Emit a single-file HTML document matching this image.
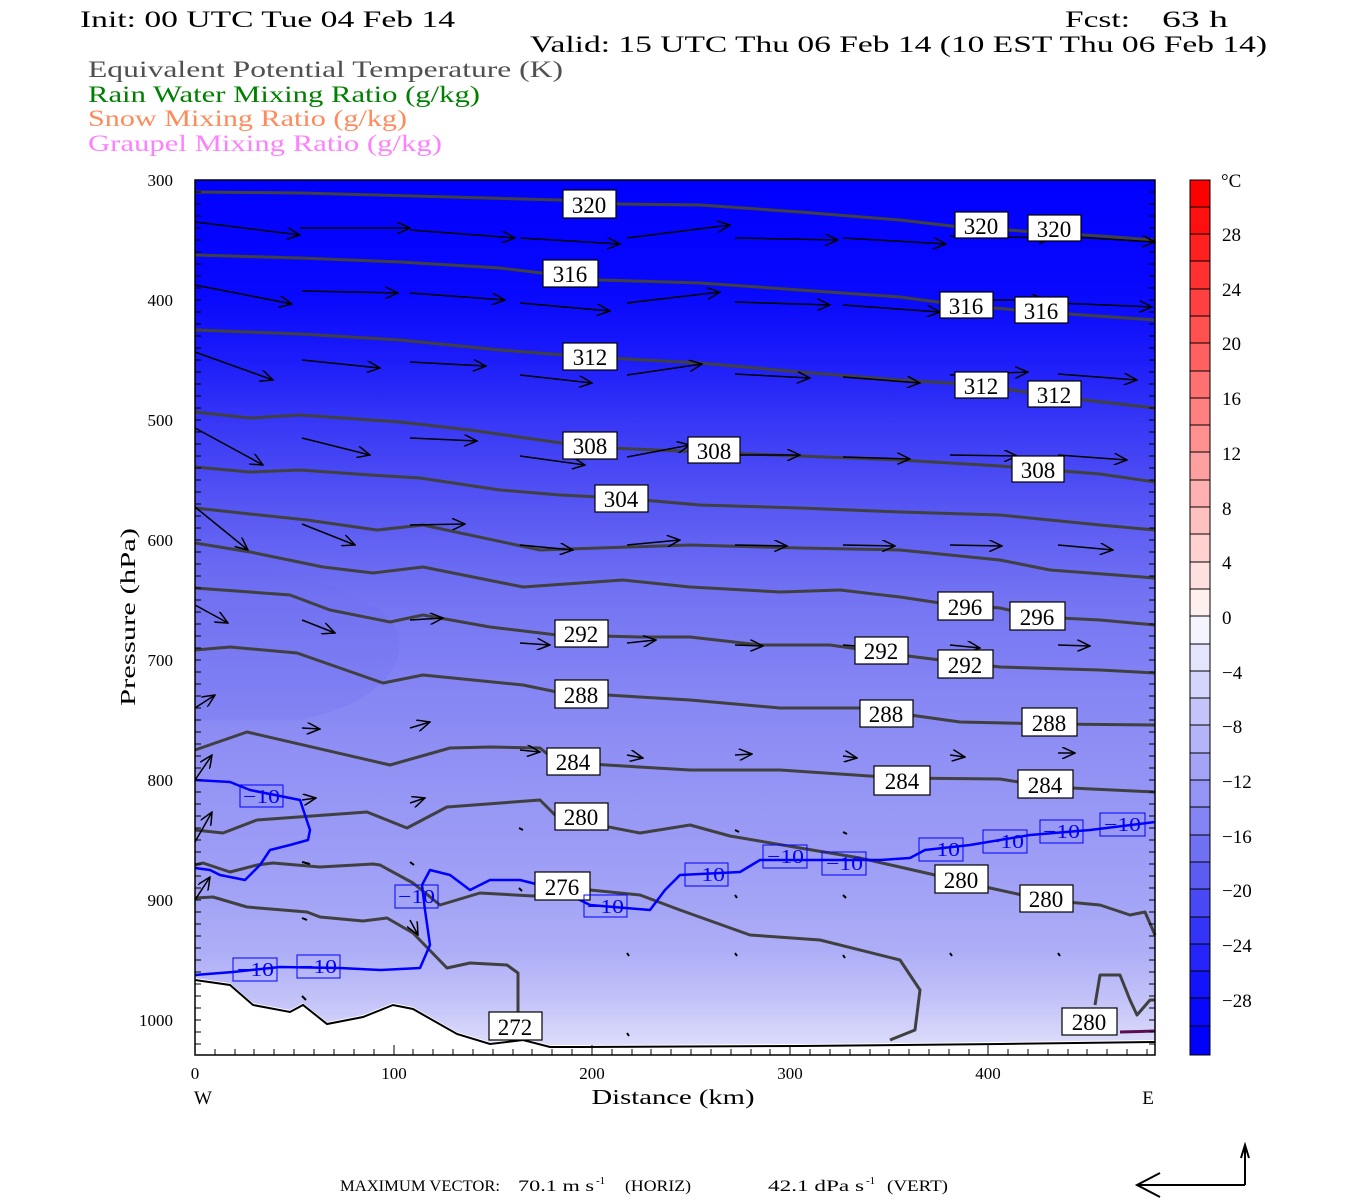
<!DOCTYPE html>
<html><head><meta charset="utf-8"><style>
html,body{margin:0;padding:0;background:#fff;}
svg{display:block;}
text{font-family:"Liberation Serif",serif;}
</style></head><body>
<svg width="1350" height="1200" viewBox="0 0 1350 1200" xmlns="http://www.w3.org/2000/svg">
<defs>
<linearGradient id="bg" x1="0" y1="180" x2="0" y2="1055" gradientUnits="userSpaceOnUse">
<stop offset="0" stop-color="#0000ff"/>
<stop offset="0.13" stop-color="#0808fd"/>
<stop offset="0.2" stop-color="#1a1afa"/>
<stop offset="0.28" stop-color="#3838f6"/>
<stop offset="0.38" stop-color="#5858f3"/>
<stop offset="0.48" stop-color="#7474f3"/>
<stop offset="0.6" stop-color="#8888f4"/>
<stop offset="0.7" stop-color="#9595f5"/>
<stop offset="0.8" stop-color="#a0a0f6"/>
<stop offset="0.88" stop-color="#adadf7"/>
<stop offset="0.94" stop-color="#c4c4f9"/>
<stop offset="1" stop-color="#e2e2fc"/>
</linearGradient>
<marker id="ah" markerWidth="14" markerHeight="12" refX="13" refY="6" orient="auto" markerUnits="userSpaceOnUse">
<path d="M0,0 L13,6 L0,12" fill="none" stroke="#000" stroke-width="1.5"/>
</marker>
</defs>

<g font-size="23" fill="#000">
<text x="80" y="27" textLength="375" lengthAdjust="spacingAndGlyphs">Init: 00 UTC Tue 04 Feb 14</text>
<text x="1065" y="27" textLength="65" lengthAdjust="spacingAndGlyphs">Fcst:</text><text x="1162" y="27" textLength="66" lengthAdjust="spacingAndGlyphs">63 h</text>
<text x="530" y="52" textLength="737" lengthAdjust="spacingAndGlyphs">Valid: 15 UTC Thu 06 Feb 14 (10 EST Thu 06 Feb 14)</text>
<text x="88" y="77" fill="#505050" textLength="475" lengthAdjust="spacingAndGlyphs">Equivalent Potential Temperature (K)</text>
<text x="88" y="102" fill="#008000" textLength="392" lengthAdjust="spacingAndGlyphs">Rain Water Mixing Ratio (g/kg)</text>
<text x="88" y="126" fill="#ff8a5c" textLength="319" lengthAdjust="spacingAndGlyphs">Snow Mixing Ratio (g/kg)</text>
<text x="88" y="151" fill="#ff80ff" textLength="354" lengthAdjust="spacingAndGlyphs">Graupel Mixing Ratio (g/kg)</text>
</g>

<rect x="195" y="180" width="960" height="875" fill="url(#bg)"/>
<path d="M195,560 C260,560 330,580 380,610 C420,640 400,700 300,720 L195,720 Z" fill="#6a6af2" opacity="0.2"/>
<path d="M195,978 L230,983 L253,1003 L290,1010 L303,1003 L327,1022 L363,1015 L393,1003 L413,1007 L457,1032 L490,1042 L523,1038 L550,1045 L580,1045 L800,1044 L1000,1042 L1155,1040 L1155,1055 L195,1055 Z" fill="#fff"/>
<path d="M195,980 L230,985 L253,1005 L290,1012 L303,1005 L327,1024 L363,1017 L393,1005 L413,1009 L457,1034 L490,1044 L523,1040 L550,1047 L580,1047 L800,1046 L1000,1044 L1155,1042" fill="none" stroke="#000" stroke-width="2"/>
<path d="M1120,1032 L1155,1031" stroke="#5a1050" stroke-width="3"/>

<g fill="none" stroke="#404040" stroke-width="3" stroke-linejoin="round">
<polyline points="195,192 300,193 450,197 560,200 620,204 700,205 800,212 900,220 960,227 1100,236 1155,240"/>
<polyline points="195,255 300,258 400,262 500,268 600,280 700,283 800,290 900,297 960,305 1040,312 1155,320"/>
<polyline points="195,330 300,334 400,340 500,350 590,357 700,363 800,372 900,380 980,385 1050,396 1155,408"/>
<polyline points="195,412 250,418 300,415 400,422 470,430 540,440 590,447 700,452 800,456 900,460 1000,466 1100,474 1155,482"/>
<polyline points="195,467 250,472 300,470 370,475 420,478 500,490 560,495 620,498 700,505 800,508 900,512 1000,515 1100,525 1155,530"/>
<polyline points="195,508 250,514 307,520 377,530 423,525 540,550 690,545 800,548 900,550 1000,560 1050,570 1155,578"/>
<polyline points="195,543 250,552 323,567 373,573 423,567 523,587 623,580 690,587 780,592 840,590 900,597 940,603 1000,608 1040,617 1100,620 1155,625"/>
<polyline points="195,588 290,595 330,610 390,622 423,615 490,627 557,635 640,637 690,637 760,645 830,645 900,655 940,660 1000,667 1100,670 1155,673"/>
<polyline points="195,650 230,647 297,653 383,683 423,675 523,685 557,692 690,700 780,708 860,708 960,722 1050,724 1155,725"/>
<polyline points="195,750 247,732 390,765 450,748 490,747 540,748 557,762 690,770 780,770 900,778 1000,779 1050,787 1155,792"/>
<polyline points="195,830 223,833 257,820 367,812 407,828 447,807 540,800 557,817 640,833 690,825 730,836 800,848 860,858 935,875 990,888 1045,900 1100,905 1130,915 1145,912 1155,935"/>
<polyline points="195,865 203,863 230,872 257,865 273,863 320,867 373,864 380,865 413,883 440,905 480,893 533,896 590,890 640,895 680,910 750,935 820,940 900,960 920,990 915,1030 890,1040"/>
<polyline points="195,898 213,897 247,907 307,912 320,917 363,921 387,918 413,933 447,968 470,963 507,965 518,973 518,1013"/>
<polyline points="1095,1005 1100,975 1120,975 1130,1000 1137,1015 1150,1000 1155,1000"/>
</g>

<g fill="none" stroke="#0000ff" stroke-width="2.5" stroke-linejoin="round">
<polyline points="195,780 230,782 250,790 300,800 310,830 308,840 290,845 270,850 260,865 245,880 220,875 210,870 195,868"/>
<polyline points="195,975 233,972 280,967 340,968 380,970 420,968 430,945 425,910 422,885 430,870 450,875 470,890 490,880 520,880 560,890 590,905 650,910 665,890 680,875 740,872 760,860 800,860 880,860 910,858 925,850 970,845 1030,835 1090,830 1155,822"/>
</g>

<g stroke="#000" stroke-width="1.5" marker-end="url(#ah)">
<line x1="195" y1="222" x2="300" y2="235"/><line x1="300" y1="228" x2="410" y2="228"/><line x1="410" y1="230" x2="515" y2="238"/><line x1="520" y1="238" x2="620" y2="244"/><line x1="627" y1="238" x2="730" y2="225"/><line x1="735" y1="238" x2="838" y2="240"/><line x1="843" y1="238" x2="946" y2="244"/><line x1="950" y1="236" x2="1052" y2="238"/><line x1="1058" y1="236" x2="1155" y2="242"/>
<line x1="195" y1="285" x2="292" y2="304"/><line x1="302" y1="291" x2="398" y2="293"/><line x1="410" y1="293" x2="505" y2="300"/><line x1="520" y1="303" x2="610" y2="311"/><line x1="627" y1="303" x2="720" y2="292"/><line x1="735" y1="302" x2="830" y2="305"/><line x1="843" y1="305" x2="940" y2="312"/><line x1="950" y1="300" x2="1045" y2="300"/><line x1="1058" y1="303" x2="1152" y2="307"/>
<line x1="195" y1="352" x2="273" y2="380"/><line x1="302" y1="360" x2="380" y2="368"/><line x1="410" y1="362" x2="486" y2="366"/><line x1="520" y1="375" x2="592" y2="383"/><line x1="627" y1="375" x2="702" y2="364"/><line x1="735" y1="374" x2="810" y2="378"/><line x1="843" y1="377" x2="920" y2="383"/><line x1="950" y1="375" x2="1028" y2="372"/><line x1="1058" y1="374" x2="1137" y2="380"/>
<line x1="195" y1="428" x2="263" y2="465"/><line x1="302" y1="438" x2="370" y2="455"/><line x1="410" y1="438" x2="477" y2="441"/><line x1="520" y1="456" x2="585" y2="465"/><line x1="627" y1="457" x2="690" y2="445"/><line x1="735" y1="455" x2="800" y2="455"/><line x1="843" y1="457" x2="910" y2="459"/><line x1="950" y1="455" x2="1017" y2="456"/><line x1="1058" y1="455" x2="1127" y2="460"/>
<line x1="195" y1="507" x2="248" y2="550"/><line x1="302" y1="524" x2="355" y2="545"/><line x1="410" y1="525" x2="465" y2="524"/><line x1="520" y1="545" x2="573" y2="550"/><line x1="627" y1="545" x2="680" y2="540"/><line x1="735" y1="545" x2="787" y2="546"/><line x1="843" y1="545" x2="895" y2="546"/><line x1="950" y1="545" x2="1002" y2="546"/><line x1="1058" y1="545" x2="1113" y2="550"/>
<line x1="195" y1="605" x2="228" y2="623"/><line x1="302" y1="620" x2="335" y2="633"/><line x1="410" y1="620" x2="443" y2="618"/><line x1="520" y1="643" x2="550" y2="645"/><line x1="627" y1="643" x2="656" y2="640"/><line x1="735" y1="645" x2="763" y2="646"/><line x1="843" y1="645" x2="870" y2="647"/><line x1="950" y1="645" x2="980" y2="648"/><line x1="1058" y1="645" x2="1090" y2="646"/>
<line x1="195" y1="708" x2="215" y2="695"/><line x1="302" y1="728" x2="320" y2="729"/><line x1="410" y1="728" x2="430" y2="722"/><line x1="520" y1="750" x2="540" y2="752"/><line x1="627" y1="755" x2="643" y2="758"/><line x1="735" y1="755" x2="752" y2="754"/><line x1="843" y1="756" x2="857" y2="758"/><line x1="950" y1="755" x2="965" y2="757"/><line x1="1058" y1="753" x2="1075" y2="753"/>
<line x1="195" y1="780" x2="212" y2="755"/><line x1="302" y1="800" x2="316" y2="798"/><line x1="410" y1="803" x2="425" y2="798"/>
<line x1="195" y1="842" x2="212" y2="812"/><line x1="195" y1="900" x2="210" y2="877"/><line x1="410" y1="920" x2="418" y2="935"/>
</g>
<g stroke="#000" stroke-width="2">
<line x1="519" y1="828" x2="523" y2="830"/><line x1="735" y1="830" x2="739" y2="832"/><line x1="843" y1="832" x2="847" y2="834"/>
<line x1="302" y1="862" x2="310" y2="864"/><line x1="410" y1="862" x2="414" y2="865"/><line x1="519" y1="888" x2="522" y2="891"/>
<line x1="302" y1="918" x2="307" y2="920"/><line x1="735" y1="895" x2="737" y2="898"/><line x1="843" y1="895" x2="846" y2="898"/>
<line x1="627" y1="953" x2="629" y2="956"/><line x1="735" y1="953" x2="737" y2="956"/><line x1="843" y1="955" x2="845" y2="958"/><line x1="950" y1="953" x2="952" y2="956"/><line x1="1058" y1="953" x2="1060" y2="956"/>
<line x1="302" y1="996" x2="306" y2="1000"/><line x1="627" y1="1033" x2="629" y2="1036"/>
</g>

<g font-size="23" text-anchor="middle">
<g fill="#fff" stroke="#000" stroke-width="1.2">
<rect x="563" y="190" width="53" height="28"/><rect x="955" y="212" width="53" height="26"/><rect x="1028" y="215" width="53" height="26"/>
<rect x="543" y="260" width="55" height="27"/><rect x="940" y="292" width="53" height="26"/><rect x="1015" y="297" width="53" height="26"/>
<rect x="563" y="343" width="54" height="27"/><rect x="955" y="372" width="53" height="26"/><rect x="1028" y="381" width="53" height="26"/>
<rect x="563" y="432" width="54" height="27"/><rect x="688" y="437" width="52" height="26"/><rect x="1012" y="456" width="52" height="26"/>
<rect x="595" y="485" width="53" height="27"/>
<rect x="938" y="592" width="55" height="28"/><rect x="1010" y="602" width="55" height="28"/>
<rect x="555" y="620" width="53" height="27"/><rect x="855" y="637" width="53" height="27"/><rect x="938" y="650" width="55" height="28"/>
<rect x="555" y="680" width="53" height="28"/><rect x="860" y="700" width="53" height="27"/><rect x="1022" y="708" width="55" height="28"/>
<rect x="547" y="748" width="53" height="27"/><rect x="874" y="766" width="56" height="29"/><rect x="1018" y="770" width="55" height="28"/>
<rect x="555" y="803" width="53" height="27"/><rect x="935" y="865" width="53" height="28"/><rect x="1020" y="885" width="53" height="27"/>
<rect x="535" y="872" width="55" height="28"/><rect x="489" y="1012" width="53" height="28"/><rect x="1062" y="1008" width="55" height="27"/>
</g>
<g fill="#000">
<text x="589" y="213">320</text><text x="981" y="234">320</text><text x="1054" y="237">320</text>
<text x="570" y="282">316</text><text x="966" y="314">316</text><text x="1041" y="319">316</text>
<text x="590" y="365">312</text><text x="981" y="394">312</text><text x="1054" y="403">312</text>
<text x="590" y="454">308</text><text x="714" y="459">308</text><text x="1038" y="478">308</text>
<text x="621" y="507">304</text>
<text x="965" y="615">296</text><text x="1037" y="625">296</text>
<text x="581" y="642">292</text><text x="881" y="659">292</text><text x="965" y="673">292</text>
<text x="581" y="703">288</text><text x="886" y="722">288</text><text x="1049" y="731">288</text>
<text x="573" y="770">284</text><text x="902" y="789">284</text><text x="1045" y="793">284</text>
<text x="581" y="825">280</text><text x="961" y="888">280</text><text x="1046" y="907">280</text>
<text x="562" y="895">276</text><text x="515" y="1035">272</text><text x="1089" y="1030">280</text>
</g>
</g>
<g font-size="20" fill="#0000ff">
<g fill="none" stroke="#0000ff" stroke-width="1">
<rect x="240" y="785" width="43" height="22"/><rect x="233" y="958" width="44" height="23"/><rect x="297" y="955" width="43" height="23"/>
<rect x="395" y="885" width="43" height="23"/><rect x="584" y="895" width="43" height="22"/><rect x="685" y="863" width="43" height="23"/>
<rect x="763" y="845" width="44" height="23"/><rect x="822" y="852" width="44" height="23"/><rect x="919" y="838" width="44" height="23"/>
<rect x="983" y="830" width="44" height="23"/><rect x="1040" y="820" width="43" height="23"/><rect x="1100" y="813" width="45" height="23"/>
</g>
<text x="243" y="803" textLength="37" lengthAdjust="spacingAndGlyphs">−10</text>
<text x="237" y="976" textLength="37" lengthAdjust="spacingAndGlyphs">−10</text>
<text x="300" y="973" textLength="37" lengthAdjust="spacingAndGlyphs">−10</text>
<text x="398" y="903" textLength="37" lengthAdjust="spacingAndGlyphs">−10</text>
<text x="587" y="913" textLength="37" lengthAdjust="spacingAndGlyphs">−10</text>
<text x="688" y="881" textLength="37" lengthAdjust="spacingAndGlyphs">−10</text>
<text x="767" y="863" textLength="37" lengthAdjust="spacingAndGlyphs">−10</text>
<text x="826" y="870" textLength="37" lengthAdjust="spacingAndGlyphs">−10</text>
<text x="923" y="856" textLength="37" lengthAdjust="spacingAndGlyphs">−10</text>
<text x="987" y="848" textLength="37" lengthAdjust="spacingAndGlyphs">−10</text>
<text x="1043" y="838" textLength="37" lengthAdjust="spacingAndGlyphs">−10</text>
<text x="1104" y="831" textLength="37" lengthAdjust="spacingAndGlyphs">−10</text>
</g>

<rect x="195" y="180" width="960" height="875" fill="none" stroke="#000" stroke-width="1.5"/>
<g stroke="#000" stroke-width="1">
<path d="M195,192h6M195,204h6M195,216h6M195,228h6M195,240h6M195,252h6M195,264h6M195,276h6M195,288h6M195,300h6M195,312h6M195,324h6M195,336h6M195,348h6M195,360h6M195,372h6M195,384h6M195,396h6M195,408h6M195,420h6M195,432h6M195,444h6M195,456h6M195,468h6M195,480h6M195,492h6M195,504h6M195,516h6M195,528h6M195,540h6M195,552h6M195,564h6M195,576h6M195,588h6M195,600h6M195,612h6M195,624h6M195,636h6M195,648h6M195,660h6M195,672h6M195,684h6M195,696h6M195,708h6M195,720h6M195,732h6M195,744h6M195,756h6M195,768h6M195,780h6M195,792h6M195,804h6M195,816h6M195,828h6M195,840h6M195,852h6M195,864h6M195,876h6M195,888h6M195,900h6M195,912h6M195,924h6M195,936h6M195,948h6M195,960h6M195,972h6M195,984h6M195,996h6M195,1008h6M195,1020h6M195,1032h6M195,1044h6"/>
<path d="M1155,192h-6M1155,204h-6M1155,216h-6M1155,228h-6M1155,240h-6M1155,252h-6M1155,264h-6M1155,276h-6M1155,288h-6M1155,300h-6M1155,312h-6M1155,324h-6M1155,336h-6M1155,348h-6M1155,360h-6M1155,372h-6M1155,384h-6M1155,396h-6M1155,408h-6M1155,420h-6M1155,432h-6M1155,444h-6M1155,456h-6M1155,468h-6M1155,480h-6M1155,492h-6M1155,504h-6M1155,516h-6M1155,528h-6M1155,540h-6M1155,552h-6M1155,564h-6M1155,576h-6M1155,588h-6M1155,600h-6M1155,612h-6M1155,624h-6M1155,636h-6M1155,648h-6M1155,660h-6M1155,672h-6M1155,684h-6M1155,696h-6M1155,708h-6M1155,720h-6M1155,732h-6M1155,744h-6M1155,756h-6M1155,768h-6M1155,780h-6M1155,792h-6M1155,804h-6M1155,816h-6M1155,828h-6M1155,840h-6M1155,852h-6M1155,864h-6M1155,876h-6M1155,888h-6M1155,900h-6M1155,912h-6M1155,924h-6M1155,936h-6M1155,948h-6M1155,960h-6M1155,972h-6M1155,984h-6M1155,996h-6M1155,1008h-6M1155,1020h-6M1155,1032h-6M1155,1044h-6"/>
<path d="M215,1055v-6M235,1055v-6M254,1055v-6M274,1055v-6M294,1055v-6M314,1055v-6M334,1055v-6M354,1055v-6M374,1055v-6M394,1055v-10M413,1055v-6M433,1055v-6M453,1055v-6M473,1055v-6M493,1055v-6M513,1055v-6M532,1055v-6M552,1055v-6M572,1055v-6M592,1055v-10M612,1055v-6M632,1055v-6M651,1055v-6M671,1055v-6M691,1055v-6M711,1055v-6M731,1055v-6M751,1055v-6M770,1055v-6M790,1055v-10M810,1055v-6M830,1055v-6M850,1055v-6M870,1055v-6M889,1055v-6M909,1055v-6M929,1055v-6M949,1055v-6M969,1055v-6M988,1055v-10M1008,1055v-6M1028,1055v-6M1048,1055v-6M1068,1055v-6M1087,1055v-6M1107,1055v-6M1127,1055v-6M1147,1055v-6"/>
</g>

<g font-size="17" fill="#000">
<g text-anchor="end">
<text x="173" y="186">300</text><text x="173" y="306">400</text><text x="173" y="426">500</text><text x="173" y="546">600</text><text x="173" y="666">700</text><text x="173" y="786">800</text><text x="173" y="906">900</text><text x="173" y="1026">1000</text>
</g>
<g text-anchor="middle">
<text x="195" y="1079">0</text><text x="394" y="1079">100</text><text x="592" y="1079">200</text><text x="790" y="1079">300</text><text x="988" y="1079">400</text>
</g>
<text x="203" y="1104" text-anchor="middle" font-size="19">W</text>
<text x="1148" y="1104" text-anchor="middle" font-size="19">E</text>
<text x="673" y="1104" text-anchor="middle" font-size="21" textLength="163" lengthAdjust="spacingAndGlyphs">Distance (km)</text>
<text transform="translate(135,617) rotate(-90)" text-anchor="middle" font-size="21" textLength="178" lengthAdjust="spacingAndGlyphs">Pressure (hPa)</text>
</g>

<g stroke="#000" stroke-width="1">
<rect x="1190" y="180" width="20" height="28" fill="#ff0000"/>
<rect x="1190" y="207" width="20" height="28" fill="#ff1010"/>
<rect x="1190" y="234" width="20" height="28" fill="#ff2020"/>
<rect x="1190" y="261" width="20" height="28" fill="#ff3030"/>
<rect x="1190" y="289" width="20" height="28" fill="#ff4040"/>
<rect x="1190" y="316" width="20" height="28" fill="#ff5050"/>
<rect x="1190" y="343" width="20" height="28" fill="#ff6060"/>
<rect x="1190" y="371" width="20" height="28" fill="#ff7070"/>
<rect x="1190" y="398" width="20" height="28" fill="#ff8080"/>
<rect x="1190" y="425" width="20" height="28" fill="#ff9090"/>
<rect x="1190" y="452" width="20" height="28" fill="#ffa0a0"/>
<rect x="1190" y="480" width="20" height="28" fill="#ffb0b0"/>
<rect x="1190" y="507" width="20" height="28" fill="#ffc0c0"/>
<rect x="1190" y="534" width="20" height="28" fill="#ffd0d0"/>
<rect x="1190" y="562" width="20" height="28" fill="#ffe0e0"/>
<rect x="1190" y="589" width="20" height="28" fill="#fff0f0"/>
<rect x="1190" y="616" width="20" height="28" fill="#f4f4fe"/>
<rect x="1190" y="644" width="20" height="28" fill="#e4e4fd"/>
<rect x="1190" y="671" width="20" height="28" fill="#d4d4fc"/>
<rect x="1190" y="698" width="20" height="28" fill="#c4c4fa"/>
<rect x="1190" y="725" width="20" height="28" fill="#b4b4f8"/>
<rect x="1190" y="753" width="20" height="28" fill="#a4a4f6"/>
<rect x="1190" y="780" width="20" height="28" fill="#9494f5"/>
<rect x="1190" y="807" width="20" height="28" fill="#8484f4"/>
<rect x="1190" y="835" width="20" height="28" fill="#7070f3"/>
<rect x="1190" y="862" width="20" height="28" fill="#5c5cf3"/>
<rect x="1190" y="889" width="20" height="28" fill="#4848f4"/>
<rect x="1190" y="917" width="20" height="28" fill="#3434f6"/>
<rect x="1190" y="944" width="20" height="28" fill="#2424f8"/>
<rect x="1190" y="971" width="20" height="28" fill="#1414fb"/>
<rect x="1190" y="998" width="20" height="28" fill="#0808fd"/>
<rect x="1190" y="1026" width="20" height="29" fill="#0000ff"/>
</g>
<g font-size="19" fill="#000">
<text x="1221" y="187">°C</text>
<text x="1222" y="241">28</text><text x="1222" y="296">24</text><text x="1222" y="350">20</text><text x="1222" y="405">16</text><text x="1222" y="460">12</text><text x="1222" y="515">8</text><text x="1222" y="569">4</text><text x="1222" y="624">0</text>
<text x="1222" y="679">−4</text><text x="1222" y="733">−8</text><text x="1222" y="788">−12</text><text x="1222" y="843">−16</text><text x="1222" y="897">−20</text><text x="1222" y="952">−24</text><text x="1222" y="1007">−28</text>
</g>

<g font-size="16" fill="#000">
<text x="340" y="1191" textLength="160" lengthAdjust="spacingAndGlyphs">MAXIMUM VECTOR:</text>
<text x="518" y="1191" textLength="76" lengthAdjust="spacingAndGlyphs">70.1 m s</text>
<text x="596" y="1184" font-size="11">-1</text>
<text x="625" y="1191" textLength="66" lengthAdjust="spacingAndGlyphs">(HORIZ)</text>
<text x="768" y="1191" textLength="96" lengthAdjust="spacingAndGlyphs">42.1 dPa s</text>
<text x="866" y="1184" font-size="11">-1</text>
<text x="887" y="1191" textLength="61" lengthAdjust="spacingAndGlyphs">(VERT)</text>
</g>
<g stroke="#000" stroke-width="2" fill="none">
<path d="M1245,1185 L1137,1185 M1160,1173 L1137,1185 L1160,1197"/>
<path d="M1245,1185 L1245,1145 M1241,1158 L1245,1145 L1249,1158"/>
</g>
</svg>
</body></html>
